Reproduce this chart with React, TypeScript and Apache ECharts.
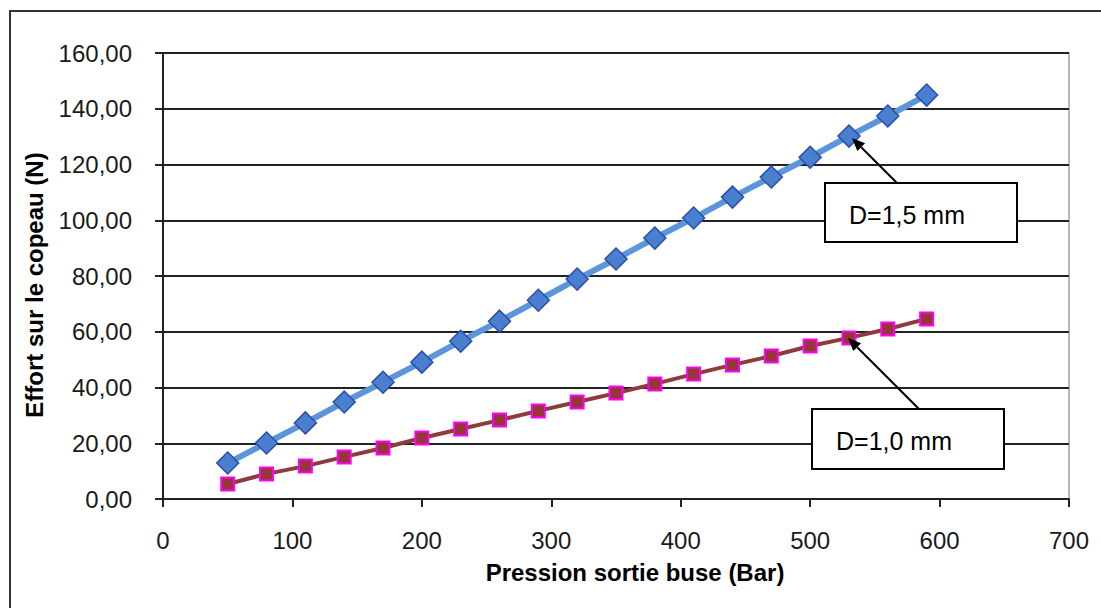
import React, { useEffect, useRef } from "react";
import * as echarts from "echarts";

const pressions = [50, 80, 110, 140, 170, 200, 230, 260, 290, 320, 350, 380, 410, 440, 470, 500, 530, 560, 590];
const effort15 = [12.9, 20.1, 27.3, 34.8, 41.9, 49.1, 56.6, 63.8, 71.3, 78.9, 86.1, 93.6, 100.8, 108.3, 115.5, 122.6, 130.2, 137.4, 144.9];
const effort10 = [5.4, 9.0, 11.8, 15.1, 18.3, 21.9, 25.1, 28.3, 31.6, 34.8, 38.0, 41.3, 44.8, 48.1, 51.3, 54.9, 57.8, 61.0, 64.6];
const seriesNames = ["D=1,5 mm", "D=1,0 mm"];
const xAxisTitle = "Pression sortie buse (Bar)";
const yAxisTitle = "Effort sur le copeau (N)";

function arrow(x1: number, y1: number, x2: number, y2: number) {
  const dx = x2 - x1, dy = y2 - y1;
  const len = Math.sqrt(dx * dx + dy * dy);
  const ux = dx / len, uy = dy / len;
  const bx = x2 - ux * 13, by = y2 - uy * 13;
  const px = -uy, py = ux;
  return [
    { type: "line", shape: { x1, y1, x2: bx, y2: by }, style: { stroke: "#000", lineWidth: 2 }, z: 100 },
    { type: "polygon", shape: { points: [[x2, y2], [bx + px * 5.5, by + py * 5.5], [bx - px * 5.5, by - py * 5.5]] }, style: { fill: "#000" }, z: 100 },
  ];
}

function box(x: number, y: number, w: number, h: number, text: string) {
  return [
    { type: "rect", shape: { x, y, width: w, height: h }, style: { fill: "#fff", stroke: "#000", lineWidth: 2 }, z: 100 },
    { type: "text", x: x + 24, y: y + h / 2 + 2, style: { text, font: "25px 'Liberation Sans', Arial, sans-serif", fill: "#000", verticalAlign: "middle", align: "left" }, z: 101 },
  ];
}

export default function App() {
  const ref = useRef<HTMLDivElement>(null);
  useEffect(() => {
    if (!ref.current) return;
    const chart = echarts.init(ref.current, undefined, { renderer: "svg" });
    const font = "'Liberation Sans', Arial, sans-serif";
    chart.setOption({
      animation: false,
      backgroundColor: "#fff",
      textStyle: { fontFamily: font },
      grid: { left: 163, right: 32, top: 53, bottom: 109, show: true, borderColor: "#a0a0a0", borderWidth: 1.5, containLabel: false },
      xAxis: {
        type: "value", min: 0, max: 700, interval: 100,
        name: xAxisTitle, nameLocation: "middle", nameGap: 61,
        nameTextStyle: { fontFamily: font, fontSize: 24, fontWeight: "bold", color: "#000", padding: [0, 0, 0, 38] },
        axisLine: { show: true, lineStyle: { color: "#222", width: 2 } },
        axisTick: { show: true, inside: false, length: 8, lineStyle: { color: "#222", width: 2 } },
        axisLabel: { margin: 29, fontSize: 24, color: "#1a1a1a", fontFamily: font },
        splitLine: { show: false },
      },
      yAxis: {
        type: "value", min: 0, max: 160, interval: 20,
        name: yAxisTitle, nameLocation: "middle", nameGap: 117, nameRotate: 90,
        nameTextStyle: { fontFamily: font, fontSize: 24, fontWeight: "bold", color: "#000", padding: [0, 18, 0, 0] },
        axisLine: { show: true, lineStyle: { color: "#222", width: 2 } },
        axisTick: { show: true, inside: false, length: 8, lineStyle: { color: "#222", width: 2 } },
        axisLabel: { margin: 31, fontSize: 24, color: "#1a1a1a", fontFamily: font, formatter: (v: number) => v.toFixed(2).replace(".", ",") },
        splitLine: { show: true, lineStyle: { color: "#222", width: 2 } },
      },
      series: [
        {
          name: seriesNames[0], type: "line",
          data: pressions.map((p, i) => [p, effort15[i]]),
          lineStyle: { color: "#5b95dc", width: 6 },
          symbol: "diamond", symbolSize: 22,
          itemStyle: { color: "#4a7fd0", borderColor: "#2a4fa8", borderWidth: 1.5 },
          z: 3,
        },
        {
          name: seriesNames[1], type: "line",
          data: pressions.map((p, i) => [p, effort10[i]]),
          lineStyle: { color: "#8e3b3a", width: 4 },
          symbol: "rect", symbolSize: 13,
          itemStyle: { color: "#953735", borderColor: "#ff00ff", borderWidth: 2 },
          z: 2,
        },
      ],
      graphic: [
        { type: "rect", shape: { x: 10, y: 11, width: 1100, height: 610 }, style: { fill: "none", stroke: "#333", lineWidth: 2 }, z: 50 },
        ...arrow(897, 183, 852, 138),
        ...box(825, 183, 192, 59, seriesNames[0]),
        ...arrow(919, 409, 848, 338),
        ...box(812, 409, 192, 60, seriesNames[1]),
      ],
    });
    return () => chart.dispose();
  }, []);
  return <div ref={ref} style={{ position: "absolute", left: 0, top: 0, width: 1101, height: 608 }} />;
}
